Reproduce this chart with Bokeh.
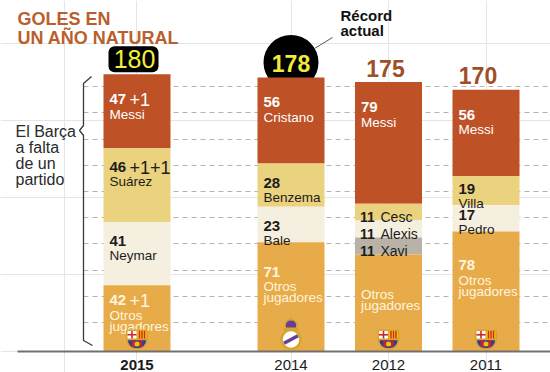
from bokeh.plotting import figure
from bokeh.models import FactorRange, Range1d, LinearScale
from bokeh.embed import file_html
from bokeh.resources import INLINE
from bokeh.core.properties import value

# ---------------- data ----------------
years = ["2015", "2014", "2012", "2011"]
clubs = ["Barça", "Real Madrid", "Barça", "Barça"]

players_2015 = ["Messi", "Suárez", "Neymar", "Otros jugadores"]
goals_2015 = [47, 46, 41, 42]
extra_2015 = [1, 2, 0, 1]

players_2014 = ["Cristano", "Benzema", "Bale", "Otros jugadores"]
goals_2014 = [56, 28, 23, 71]
extra_2014 = [0, 0, 0, 0]

players_2012 = ["Messi", "Cesc", "Alexis", "Xavi", "Otros jugadores"]
goals_2012 = [79, 11, 11, 11, 63]
extra_2012 = [0, 0, 0, 0, 0]

players_2011 = ["Messi", "Villa", "Pedro", "Otros jugadores"]
goals_2011 = [56, 19, 17, 78]
extra_2011 = [0, 0, 0, 0]

hidden_numbers = [("2012", "Otros jugadores")]

title_lines = ["GOLES EN", "UN AÑO NATURAL"]
note_lines = ["El Barça", "a falta", "de un", "partido"]
record_lines = ["Récord", "actual"]

# ---------------- styles ----------------
FONT = value("Liberation Sans")
W, H = 550, 372
YS = 1.54          # px per goal
XU = 60.0          # px per categorical unit
BASE = 351         # baseline (px from top of frame)
BAR_W = 67 / XU
SEG_COLORS = {"top": "#be5126", "mid": "#ead27e", "light": "#f5efdf",
              "grey": "#b8b3a6", "otros": "#e8ab4a"}
TXT_COLORS = {"top": "#ffffff", "mid": "#1c1c1c", "light": "#1c1c1c",
              "grey": "#1c1c1c", "otros": "#fff5de"}
GRID_LEVELS = [18.8, 35.7, 52.6, 70.1, 87.0, 103.9, 120.8, 137.7, 155.2, 172.1]
TOTAL_STYLE = {"2015": "box", "2014": "circle", "2012": "plain", "2011": "plain"}
TOTAL_DX = {"2015": -2.5, "2014": 0, "2012": -3, "2011": -8}
YEAR_BOLD = {"2015": True, "2014": False, "2012": False, "2011": False}

ANCHOR = ("L", "L", "L")           # left annotation column
ANCHOR_PX = 64.5                   # its centre in frame pixels
FAC = {"2015": ("Y", "a", "2015"), "2014": ("Y", "b", "2014"),
       "2012": ("Y", "b", "2012"), "2011": ("Y", "b", "2011")}
factors = [ANCHOR] + [FAC[y] for y in years]

xr = FactorRange(factors=factors, factor_padding=0.625, subgroup_padding=1.5667,
                 group_padding=0.2, range_padding=0.14345, range_padding_units="percent")

p = figure(width=W, height=H, x_range=xr, y_range=Range1d(-(H - BASE) / YS, BASE / YS),
           output_backend="svg", toolbar_location=None, min_border=0,
           x_axis_location=None, y_axis_location=None, outline_line_color=None,
           background_fill_color="white", border_fill_color="white")
p.title.visible = False
p.extra_y_ranges = {"py": Range1d(H, 0)}
p.extra_y_scales = {"py": LinearScale()}


def fx(px):
    """frame pixel x -> categorical coordinate (anchor + offset)"""
    return ANCHOR + ((px - ANCHOR_PX) / XU,)


# dashed grid lines
p.segment(x0=[fx(83)] * len(GRID_LEVELS), x1=[fx(W)] * len(GRID_LEVELS), y0=GRID_LEVELS, y1=GRID_LEVELS,
          line_color="#b3b3b3", line_width=1, line_dash="5 4")

bars = [("2015", players_2015, goals_2015, extra_2015),
        ("2014", players_2014, goals_2014, extra_2014),
        ("2012", players_2012, goals_2012, extra_2012),
        ("2011", players_2011, goals_2011, extra_2011)]
totals = {yr: sum(g) + sum(e) for yr, _, g, e in bars}

# record circle (behind bar)
for yr in years:
    if TOTAL_STYLE[yr] == "circle":
        p.scatter(x=[FAC[yr]], y=[totals[yr] + 15 / YS], size=55, marker="circle",
                  fill_color="#000000", line_color=None)

seg = dict(x=[], bottom=[], top=[], color=[])
num = dict(x=[], y=[], text=[], xo=[], yo=[], color=[], size=[])
ext = dict(x=[], y=[], text=[], xo=[], yo=[], color=[])
nam = dict(x=[], y=[], text=[], xo=[], yo=[], color=[], size=[])

for yr, names, goals, extras in bars:
    vals = [g + e for g, e in zip(goals, extras)]
    cum = sum(vals)
    n = len(vals)
    for i, (nm, g, e, v) in enumerate(zip(names, goals, extras, vals)):
        top, bottom = cum, cum - v
        cum = bottom
        role = "top" if i == 0 else ("otros" if i == n - 1 else ["mid", "light", "grey"][i - 1])
        seg["x"].append(FAC[yr]); seg["bottom"].append(bottom); seg["top"].append(top)
        seg["color"].append(SEG_COLORS[role])
        col = TXT_COLORS[role]
        show = (yr, nm) not in hidden_numbers
        if v <= 12:
            num["x"].append(FAC[yr]); num["y"].append(bottom); num["text"].append(str(g))
            num["xo"].append(-28.5); num["yo"].append(-3.5); num["color"].append(col); num["size"].append("14px")
            nam["x"].append(FAC[yr]); nam["y"].append(bottom); nam["text"].append(nm)
            nam["xo"].append(-8); nam["yo"].append(-3.5); nam["color"].append(col); nam["size"].append("14px")
            continue
        seg_px = v * YS
        if role == "top":
            off, gap = 25, 15
        elif role == "otros":
            off, gap = max(15, 0.4 * (seg_px - 35)), 15
        else:
            off, gap = min(19, seg_px - 16), 14.5
        if show:
            num["x"].append(FAC[yr]); num["y"].append(top); num["text"].append(str(g))
            num["xo"].append(-27.5); num["yo"].append(off); num["color"].append(col); num["size"].append("15px")
            if e:
                ext["x"].append(FAC[yr]); ext["y"].append(top); ext["text"].append("+1" * e)
                ext["xo"].append(-27.5 + 20); ext["yo"].append(off); ext["color"].append(col)
        lines = nm.split(" ") if nm == "Otros jugadores" else [nm]
        for k, ln in enumerate(lines):
            nam["x"].append(FAC[yr]); nam["y"].append(top); nam["text"].append(ln)
            nam["xo"].append(-27.5); nam["yo"].append(off + gap + 11 * k)
            nam["color"].append(col); nam["size"].append("13.5px")

p.vbar(x="x", bottom="bottom", top="top", width=BAR_W, fill_color="color", line_color=None, source=seg)

p.text(x="x", y="y", text="text", x_offset="xo", y_offset="yo", text_color="color",
       text_font_size="size", text_font=FONT, text_font_style="bold",
       text_align="left", text_baseline="alphabetic", source=num)
p.text(x="x", y="y", text="text", x_offset="xo", y_offset="yo", text_color="color",
       text_font_size="18px", text_font=FONT, text_align="left", text_baseline="alphabetic", source=ext)
p.text(x="x", y="y", text="text", x_offset="xo", y_offset="yo", text_color="color",
       text_font_size="size", text_font=FONT, text_align="left", text_baseline="alphabetic", source=nam)


# ---------------- crests ----------------
def q(f, l, r, b, t, color, radius=0):
    p.quad(left=[f + (l / XU,)], right=[f + (r / XU,)], bottom=[b / YS], top=[t / YS],
           fill_color=color, line_color=None, border_radius=radius)


def barca(f):
    q(f, -11, 11, 2, 22, "#d6a32e", (2, 2, 10, 10))
    q(f, -9.5, -0.5, 13, 20.5, "#ffffff")
    q(f, -5.8, -4.2, 13, 20.5, "#d0202e")
    q(f, -9.5, -0.5, 15.9, 17.5, "#d0202e")
    q(f, 0.5, 9.5, 13, 20.5, "#f3c300")
    for a in (1.8, 4.3, 6.8):
        q(f, a, a + 1.4, 13, 20.5, "#d0202e")
    q(f, -9, 9, 3.5, 11.3, "#24409a", (0, 0, 8, 8))
    for a in (-5.4, 1.8):
        q(f, a, a + 3.6, 4.5, 11.3, "#c0223a")
    p.scatter(x=[f], y=[7.5 / YS], size=5, marker="circle", fill_color="#f3c300", line_color=None)


def madrid(f):
    p.scatter(x=[f], y=[26 / YS], size=12, marker="circle", fill_color="#6a3d9a",
              line_color="#d4a62a", line_width=1.5)
    q(f, -7.5, 7.5, 20.5, 24, "#d4a62a", 1)
    q(f, -1, 1, 31, 34.5, "#d4a62a")
    p.scatter(x=[f], y=[12 / YS], size=19, marker="circle", fill_color="#ffffff",
              line_color="#d4a62a", line_width=2.5)
    p.rect(x=[f], y=[12 / YS], width=16, height=3.5, width_units="screen", height_units="screen",
           angle=0.5, fill_color="#6a3d9a", line_color=None)


for yr, club in zip(years, clubs):
    if club == "Barça":
        barca(FAC[yr])
    else:
        madrid(FAC[yr])

# baseline
p.segment(x0=[fx(17)], x1=[fx(W)], y0=[0], y1=[0], line_color="#707070", line_width=2)

# ---------------- totals ----------------
for yr in years:
    st, t, dx = TOTAL_STYLE[yr], totals[yr], TOTAL_DX[yr]
    if st == "box":
        p.quad(left=[FAC[yr] + (-28.5 / XU,)], right=[FAC[yr] + (21.5 / XU,)],
               bottom=[t + 2 / YS], top=[t + 28 / YS], fill_color="#000000",
               line_color=None, border_radius=6)
        p.text(x=[FAC[yr]], y=[t], text=[str(t)], x_offset=dx, y_offset=-15, text_color="#f2f03a",
               text_font_size="25px", text_font=FONT, text_align="center", text_baseline="middle")
    elif st == "circle":
        p.text(x=[FAC[yr]], y=[t], text=[str(t)], x_offset=dx, y_offset=-14, text_color="#f2ea3a",
               text_font_size="23px", text_font=FONT, text_font_style="bold",
               text_align="center", text_baseline="middle")
    else:
        p.text(x=[FAC[yr]], y=[t], text=[str(t)], x_offset=dx, y_offset=-14, text_color="#a04e28",
               text_font_size="23px", text_font=FONT, text_font_style="bold",
               text_align="center", text_baseline="middle")

# year labels
for yr in years:
    p.text(x=[FAC[yr]], y=[0], text=[yr], y_offset=13, text_color="#1a1a1a",
           text_font_size="15px", text_font=FONT, text_font_style="bold" if YEAR_BOLD[yr] else "normal",
           text_align="center", text_baseline="alphabetic")

# ---------------- annotations (pixel space) ----------------
p.text(x=[fx(17), fx(17)], y=[18.5, 37.5], text=title_lines, y_range_name="py",
       text_color="#b95f2e", text_font_size="18px", text_font=FONT, text_font_style="bold",
       text_align="left", text_baseline="alphabetic")

p.text(x=[fx(15)] * 4, y=[130.5, 146.5, 162.5, 178.5], text=note_lines, y_range_name="py",
       text_color="#2a2a2a", text_font_size="16px", text_font=FONT,
       text_align="left", text_baseline="alphabetic")

p.line(x=[fx(v) for v in [91, 83, 83, 79, 83, 83, 92]], y=[76, 83, 125, 130, 135, 340, 345],
       y_range_name="py", line_color="#3a3a3a", line_width=1.3)

p.text(x=[fx(340), fx(340)], y=[15, 30], text=record_lines, y_range_name="py",
       text_color="#111111", text_font_size="15px", text_font=FONT, text_font_style="bold",
       text_align="left", text_baseline="alphabetic")
p.line(x=[fx(314), fx(332)], y=[48, 37], y_range_name="py",
       line_color="#555555", line_width=1)

open("out.html", "w").write(file_html(p, INLINE))
